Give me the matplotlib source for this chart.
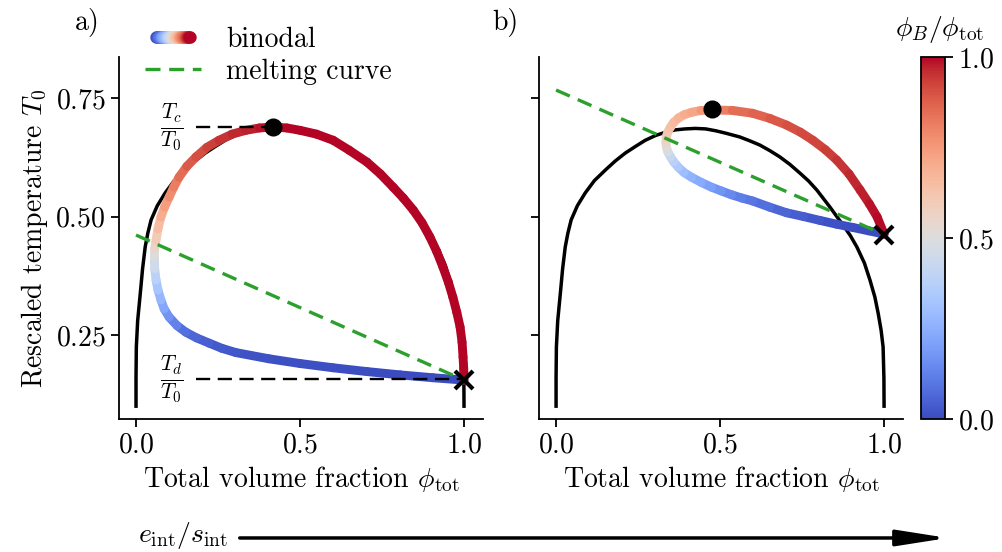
import numpy as np
import matplotlib
matplotlib.use("Agg")
import matplotlib.pyplot as plt
from matplotlib.collections import LineCollection
from matplotlib.legend_handler import HandlerBase
from matplotlib.lines import Line2D

plt.rcParams['font.family'] = 'serif'
plt.rcParams['font.serif'] = ['cmr10', 'DejaVu Serif']
plt.rcParams['mathtext.fontset'] = 'cm'
plt.rcParams['axes.unicode_minus'] = False
plt.rcParams['axes.formatter.use_mathtext'] = True
plt.rcParams['font.size'] = 20

# black curve, same in both panels
curve_x = [0.0, 0.0, 0.001, 0.005, 0.014, 0.020, 0.028, 0.036, 0.046, 0.065, 0.089, 0.117,
           0.150, 0.180, 0.211, 0.242, 0.272, 0.303, 0.333, 0.364, 0.394, 0.425,
           0.456, 0.487, 0.517, 0.560, 0.590, 0.621, 0.652, 0.682, 0.713, 0.743, 0.770,
           0.795, 0.835, 0.875, 0.897, 0.917, 0.940, 0.957, 0.972, 0.982, 0.991, 0.997,
           0.9995, 1.0]
curve_y = [0.100, 0.160, 0.225, 0.280, 0.345, 0.390, 0.436, 0.465, 0.493, 0.523, 0.550, 0.576,
           0.598, 0.617, 0.634, 0.648, 0.661, 0.671, 0.678, 0.683, 0.685, 0.686,
           0.685, 0.681, 0.676, 0.668, 0.660, 0.651, 0.639, 0.626, 0.610, 0.592, 0.575,
           0.556, 0.520, 0.482, 0.460, 0.436, 0.402, 0.366, 0.330, 0.296, 0.260, 0.225,
           0.160, 0.100]

# panel a: binodal, coloured by phi_B / phi_tot
bin_a_x = [1.0, 0.905, 0.805, 0.704, 0.601, 0.500, 0.405, 0.305, 0.262, 0.223, 0.185, 0.152,
           0.125, 0.101, 0.086, 0.076, 0.067, 0.061, 0.057, 0.056, 0.057, 0.061, 0.067,
           0.076, 0.087, 0.101, 0.115, 0.131, 0.155, 0.183, 0.216, 0.253, 0.293, 0.335,
           0.376, 0.418, 0.460, 0.500, 0.550, 0.601, 0.650, 0.704, 0.745, 0.784, 0.815,
           0.845, 0.872, 0.896, 0.917, 0.936, 0.952, 0.966, 0.978, 0.988, 0.994, 0.997,
           0.999, 1.0]
bin_a_y = [0.155, 0.160, 0.166, 0.173, 0.181, 0.190, 0.200, 0.213, 0.222, 0.233, 0.244, 0.256,
           0.270, 0.288, 0.305, 0.324, 0.345, 0.366, 0.390, 0.415, 0.433, 0.450, 0.474,
           0.499, 0.520, 0.541, 0.562, 0.583, 0.606, 0.626, 0.646, 0.661, 0.674, 0.682,
           0.687, 0.689, 0.687, 0.682, 0.674, 0.661, 0.640, 0.615, 0.590, 0.562, 0.539,
           0.514, 0.487, 0.457, 0.426, 0.393, 0.362, 0.330, 0.298, 0.267, 0.235, 0.204,
           0.180, 0.155]
bin_a_c = [0.0, 0.0, 0.0, 0.0, 0.01, 0.01, 0.01, 0.02, 0.03, 0.04, 0.05, 0.07,
           0.10, 0.15, 0.20, 0.25, 0.30, 0.35, 0.42, 0.48, 0.53, 0.58, 0.63,
           0.68, 0.72, 0.76, 0.80, 0.83, 0.87, 0.90, 0.92, 0.94, 0.96, 0.97,
           0.98, 0.99, 1.0, 1.0, 1.0, 1.0, 1.0, 1.0, 1.0, 1.0, 1.0,
           1.0, 1.0, 1.0, 1.0, 1.0, 1.0, 1.0, 1.0, 1.0, 1.0, 1.0,
           1.0, 1.0]
crit_a = (0.418, 0.689)
end_a = (1.0, 0.155)
melt_a_x = [0.0, 1.0]
melt_a_y = [0.461, 0.155]

# panel b
bin_b_x = [1.0, 0.953, 0.905, 0.855, 0.804, 0.755, 0.703, 0.651, 0.599, 0.567, 0.535, 0.504,
           0.474, 0.443, 0.413, 0.390, 0.373, 0.359, 0.349, 0.341, 0.336, 0.335, 0.336,
           0.341, 0.349, 0.359, 0.373, 0.391, 0.413, 0.442, 0.474, 0.537, 0.599, 0.652,
           0.703, 0.745, 0.783, 0.821, 0.856, 0.893, 0.927, 0.955, 0.979, 1.0]
bin_b_y = [0.463, 0.470, 0.477, 0.484, 0.492, 0.500, 0.508, 0.520, 0.533, 0.539, 0.546, 0.554,
           0.562, 0.572, 0.583, 0.593, 0.604, 0.615, 0.626, 0.636, 0.647, 0.657, 0.668,
           0.679, 0.689, 0.699, 0.708, 0.715, 0.720, 0.724, 0.725, 0.724, 0.718, 0.707,
           0.693, 0.678, 0.661, 0.641, 0.619, 0.590, 0.556, 0.527, 0.499, 0.463]
bin_b_c = [0.0, 0.0, 0.0, 0.01, 0.02, 0.03, 0.05, 0.07, 0.09, 0.11, 0.13, 0.16,
           0.19, 0.22, 0.25, 0.28, 0.32, 0.36, 0.40, 0.45, 0.50, 0.54, 0.58,
           0.61, 0.63, 0.65, 0.67, 0.69, 0.71, 0.73, 0.78, 0.84, 0.86, 0.88,
           0.90, 0.91, 0.92, 0.93, 0.94, 0.96, 0.97, 0.98, 0.99, 1.0]
crit_b = (0.474, 0.727)
end_b = (1.0, 0.462)
melt_b_x = [0.0, 1.0]
melt_b_y = [0.767, 0.462]

cmap = plt.get_cmap('coolwarm')
norm = plt.Normalize(0, 1)


def colored_line(ax, x, y, c, lw=6.4):
    pts = np.column_stack([x, y])
    segs = np.stack([pts[:-1], pts[1:]], axis=1)
    c = np.asarray(c)
    lc = LineCollection(segs, cmap=cmap, norm=norm, linewidths=lw,
                        capstyle='round', joinstyle='round', zorder=3)
    lc.set_array((c[:-1] + c[1:]) / 2)
    ax.add_collection(lc)


class GradientHandler(HandlerBase):
    def create_artists(self, legend, orig_handle, xdescent, ydescent,
                       width, height, fontsize, trans):
        n = 40
        xs = np.linspace(0.2 * width, 0.8 * width, n) - xdescent
        ys = np.full(n, height / 2 - ydescent)
        pts = np.column_stack([xs, ys])
        segs = np.stack([pts[:-1], pts[1:]], axis=1)
        lc = LineCollection(segs, cmap=cmap, norm=norm, linewidths=9,
                            capstyle='round', transform=trans)
        lc.set_array(np.linspace(0, 1, n - 1))
        return [lc]


fig = plt.figure(figsize=(10.03, 5.52), dpi=100)
ax_a = fig.add_axes([0.1186, 0.241, 0.363, 0.656])
ax_b = fig.add_axes([0.5374, 0.241, 0.363, 0.656], sharey=ax_a)
cax = fig.add_axes([0.918, 0.241, 0.024, 0.656])

for ax, bx, by, bc, crit, end, mx, my in [
        (ax_a, bin_a_x, bin_a_y, bin_a_c, crit_a, end_a, melt_a_x, melt_a_y),
        (ax_b, bin_b_x, bin_b_y, bin_b_c, crit_b, end_b, melt_b_x, melt_b_y)]:
    ax.plot(curve_x, curve_y, color='k', lw=2.5, zorder=2)
    colored_line(ax, bx, by, bc)
    ax.plot(mx, my, color='#2ca02c', lw=2.4, dashes=(4.5, 2.6), zorder=4)
    ax.plot(*crit, 'o', color='k', ms=12, zorder=6)
    ax.plot(*end, 'x', color='k', ms=13, mew=3, zorder=6)
    ax.set_xlim(-0.052, 1.058)
    ax.set_ylim(0.073, 0.837)
    ax.set_xticks([0.0, 0.5, 1.0])
    ax.set_yticks([0.25, 0.5, 0.75])
    ax.spines['top'].set_visible(False)
    ax.spines['right'].set_visible(False)
    for s in ['left', 'bottom']:
        ax.spines[s].set_linewidth(1.3)
    ax.tick_params(width=1.3, length=6, labelsize=20)
    ax.set_xlabel(r'Total volume fraction $\phi_{\rm tot}$', fontsize=20)

# reference lines for T_c and T_d in panel a
ax_a.plot([0.183, crit_a[0]], [crit_a[1], crit_a[1]], color='k', lw=1.7,
          dashes=(6, 3.2), zorder=5)
ax_a.plot([0.183, end_a[0]], [0.157, 0.157], color='k', lw=1.7,
          dashes=(6, 3.2), zorder=5)
ax_a.text(0.11, crit_a[1], r'$\frac{T_c}{T_0}$', ha='center', va='center', fontsize=22)
ax_a.text(0.11, 0.157, r'$\frac{T_d}{T_0}$', ha='center', va='center', fontsize=22)

ax_a.set_ylabel(r'Rescaled temperature $T_0$', fontsize=20)
ax_b.tick_params(labelleft=False)

# legend
bin_proxy = Line2D([], [])
melt_proxy = Line2D([], [], color='#2ca02c', lw=2.4, dashes=(4.5, 2.6))
fig.legend([bin_proxy, melt_proxy], ['binodal', 'melting curve'],
           handler_map={bin_proxy: GradientHandler()},
           loc='upper left', bbox_to_anchor=(0.12, 0.997), frameon=False,
           fontsize=20, handlelength=2.0, handletextpad=0.9, labelspacing=0.2)

# colorbar
sm = plt.cm.ScalarMappable(cmap=cmap, norm=norm)
cb = fig.colorbar(sm, cax=cax, ticks=[0.0, 0.5, 1.0])
cb.outline.set_linewidth(1.3)
cb.ax.tick_params(width=1.3, length=6, labelsize=20)
fig.text(0.937, 0.946, r'$\phi_B/\phi_{\rm tot}$', ha='center', va='center', fontsize=20)

fig.text(0.0867, 0.960, 'a)', ha='center', va='center', fontsize=20)
fig.text(0.5035, 0.960, 'b)', ha='center', va='center', fontsize=20)

# arrow along the bottom
fig.text(0.182, 0.03, r'$e_{\rm int}/s_{\rm int}$', ha='center', va='center', fontsize=20)
ax_a.annotate('', xy=(0.945, 0.0254), xytext=(0.239, 0.0254),
              xycoords='figure fraction', textcoords='figure fraction',
              arrowprops=dict(arrowstyle='-|>,head_length=1.4,head_width=0.22',
                              lw=2.5, color='k', mutation_scale=22, shrinkA=0, shrinkB=0),
              annotation_clip=False)

fig.savefig('out.png', dpi=100)
